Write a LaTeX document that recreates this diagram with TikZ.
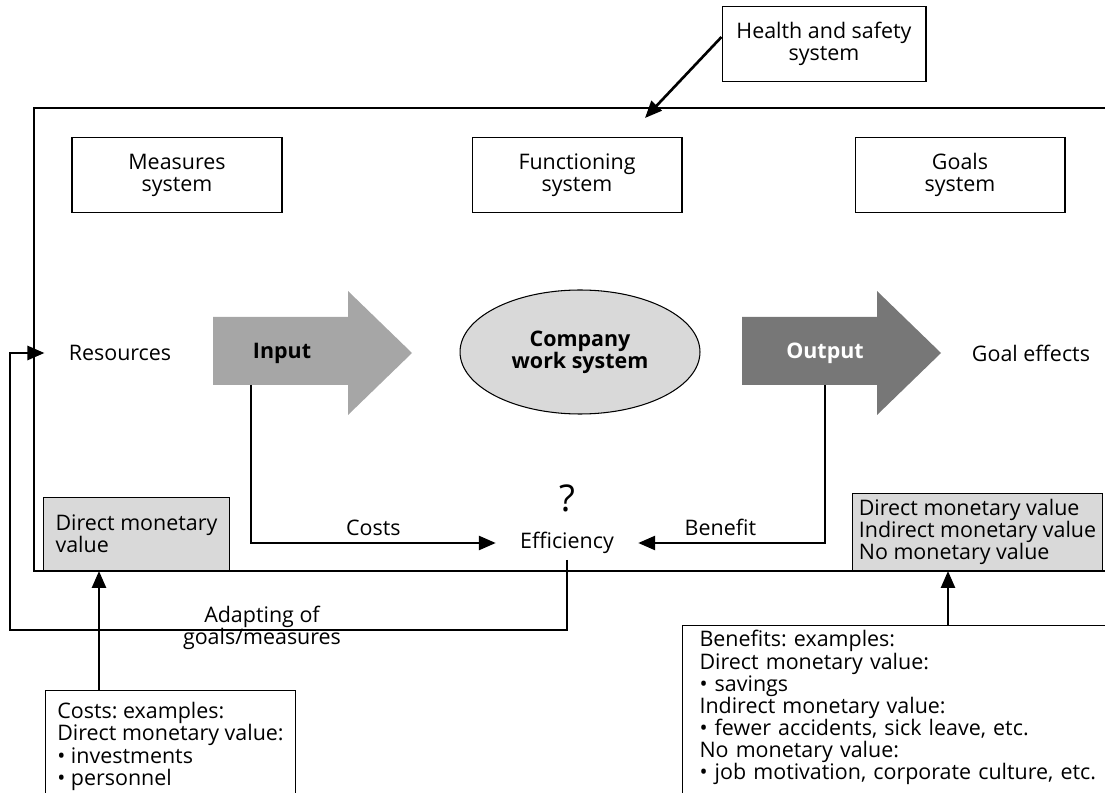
\documentclass[tikz,border=0pt]{standalone}
\usepackage{fontspec}
\setmainfont{Open Sans}
\usetikzlibrary{arrows.meta,shapes.geometric}
\definecolor{boxgray}{HTML}{D9D9D9}
\definecolor{ingray}{HTML}{A6A6A6}
\definecolor{outgray}{HTML}{777777}
\frenchspacing

\begin{document}
\begin{tikzpicture}[x=0.02cm, y=-0.02cm, font=\fontsize{12.2}{12.6}\selectfont,
  sysbox/.style={draw, line width=0.6pt, minimum width=4.2cm, minimum height=1.5cm, align=center},
  valbox/.style={draw, line width=0.6pt, fill=boxgray, align=left, anchor=south west, minimum height=1.46cm},
  exbox/.style={draw, line width=0.6pt, align=left, anchor=north west},
  conn/.style={line width=1.5pt, -{Triangle[length=3.4mm,width=2.8mm]}}]
  \useasboundingbox (0,0) rectangle (1105,793);

  % frame of the work system (open to the right)
  \draw[line width=0.6pt] (1105,108) -| (34,571) -- (1105,571);

  % health and safety system
  \node[sysbox, minimum width=4.08cm] (hs) at (824,44) {Health and safety\\system};
  \coordinate (hsIn) at (645,118);
  \draw[conn] ([yshift=0.14cm]hs.west) -- (hsIn);

  % measures, functioning, goals
  \foreach \n/\x/\t in {meas/177/Measures, func/577/Functioning, goal/960/Goals} {
    \node[sysbox] (\n) at (\x,175) {\t\\system};
  }

  % input and output arrows
  \foreach \x/\c in {213/ingray, 742/outgray} {
    \fill[\c] (\x,317) -- ++(135,0) -- ++(0,-26) -- ++(64,62) -- ++(-64,62) -- ++(0,-30) -- ++(-135,0) -- cycle;
  }
  \node[font=\fontsize{12.2}{12.6}\selectfont\bfseries] (input) at (282,353) {Input};
  \node[font=\fontsize{12.2}{12.6}\selectfont\bfseries, text=white] (output) at (825,353) {Output};
  \coordinate (inBase) at (251,385);
  \coordinate (outBase) at (825,385);

  \node[inner xsep=0.48cm] (res) at (120,353) {Resources};
  \node[ellipse, draw, line width=0.6pt, fill=boxgray, minimum width=4.8cm, minimum height=2.48cm,
    align=center, font=\fontsize{12.2}{12.6}\selectfont\bfseries] (cws) at (580,352) {Company\\work system};
  \node (goaleff) at (1031,353) {Goal effects};

  % efficiency
  \node[font=\fontsize{21}{23}\selectfont] (q) at (567,498) {?};
  \node[inner xsep=0.48cm] (eff) at (567,543) {Efficiency};
  \draw[conn] (inBase) |- node[pos=0.75, above] {Costs} (eff.west);
  \draw[conn] (outBase) |- node[pos=0.78, above] {Benefit} (eff.east);

  % feedback loop
  \coordinate (fbL) at (10,630);
  \draw[conn] (eff.south) |- (fbL) |- (res.west);
  \node[align=center] (adapt) at (262,628) {Adapting of\\goals/measures};

  % value boxes
  \node[valbox, minimum width=3.72cm] (valL) at (43,571) {Direct monetary\\value};
  \node[valbox, minimum width=5cm] (valR) at (852,571) {Direct monetary value\\Indirect monetary value\\No monetary value};

  % examples
  \node[exbox, minimum width=5cm, inner ysep=0.24cm] (costs) at (45,690)
    {Costs: examples:\\Direct monetary value:\\• investments\\• personnel\\ \mbox{}};
  \node[exbox, text width=8.1cm, inner xsep=0.34cm, inner ysep=0.1cm] (benef) at (682,625)
    {Benefits: examples:\\Direct monetary value:\\• savings\\Indirect monetary value:\\• fewer accidents, sick leave, etc.\\No monetary value:\\• job motivation, corporate culture, etc.\\ \mbox{}};
  \path (costs.north west) ++(54,0) coordinate (cUp);
  \path (benef.north west) ++(266,0) coordinate (bUp);
  \draw[conn] (cUp) -- (cUp |- valL.south);
  \draw[conn] (bUp) -- (bUp |- valR.south);
\end{tikzpicture}
\end{document}
